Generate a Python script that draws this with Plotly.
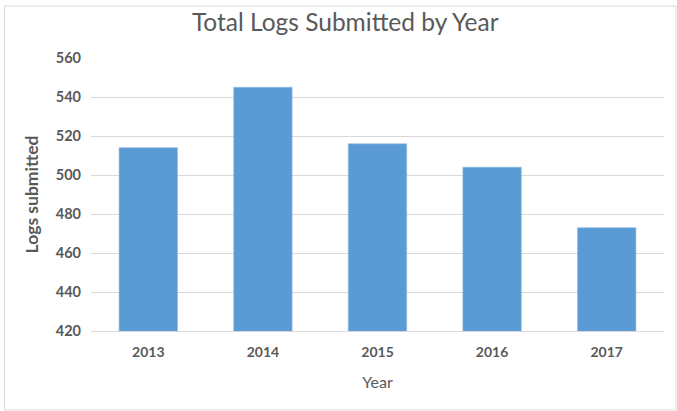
import plotly.graph_objects as go

# Yearly totals of submitted logs
years = ["2013", "2014", "2015", "2016", "2017"]
logs_submitted = [514, 545, 516, 504, 473]
y_ticks = [420, 440, 460, 480, 500, 520, 540, 560]

W, H = 677, 411
ML, MR, MT, MB = 91, 13, 58, 80
pw, ph = W - ML - MR, H - MT - MB

def px_x(px):
    return (px - ML) / pw

def px_y(py):
    return (H - MB - py) / ph

fig = go.Figure(
    go.Bar(
        x=years,
        y=logs_submitted,
        marker=dict(color="#5b9bd5", line=dict(color="#8fbbe6", width=0.6)),
        width=0.51,
        hovertemplate="%{x}: %{y}<extra></extra>",
    )
)

font_family = "Lato, 'Open Sans', sans-serif"
grey = "#595959"

fig.update_layout(
    width=W,
    height=H,
    margin=dict(l=ML, r=MR, t=MT, b=MB),
    paper_bgcolor="white",
    plot_bgcolor="white",
    showlegend=False,
    title=dict(
        text="Total Logs Submitted by Year",
        x=0.51,
        xanchor="center",
        y=1 - 22 / H,
        yanchor="middle",
        font=dict(family=font_family, size=24.5, color=grey),
    ),
    xaxis=dict(
        title=dict(text="Year", font=dict(family=font_family, size=16, color=grey), standoff=18),
        tickfont=dict(family=font_family, size=14, color=grey, weight="bold"),
        showline=True,
        linecolor="#d9d9d9",
        linewidth=1,
        ticks="",
        ticklabelstandoff=8,
    ),
    yaxis=dict(
        title=dict(text="Logs submitted", font=dict(family=font_family, size=17.5, color=grey, weight="bold"), standoff=12),
        tickfont=dict(family=font_family, size=14.5, color=grey, weight="bold"),
        range=[420, 560],
        tickvals=y_ticks,
        showgrid=True,
        gridcolor="#d9d9d9",
        gridwidth=1,
        zeroline=False,
        ticks="",
        ticklabelstandoff=9,
    ),
    shapes=[
        dict(
            type="rect",
            xref="paper",
            yref="paper",
            x0=px_x(4.5),
            x1=px_x(676),
            y0=px_y(410),
            y1=px_y(6),
            line=dict(color="#d9d9d9", width=1),
            fillcolor="rgba(0,0,0,0)",
            layer="below",
        )
    ],
)

fig.write_html("out.html")
